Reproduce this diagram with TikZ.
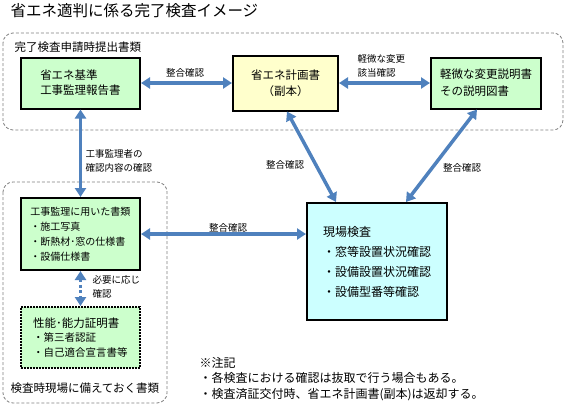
\documentclass[tikz,border=0pt]{standalone}
\usepackage{fontspec}
\setmainfont{Noto Sans CJK JP}
\usepackage{tikz}
\usetikzlibrary{arrows.meta,positioning,calc}
\tikzset{>={Triangle[length=9pt,width=11pt]}}
\tikzset{
  caja/.style={draw=black, line width=2pt, inner sep=0pt},
  grupo/.style={draw=gray, dash pattern=on 3pt off 2pt, line width=0.8pt, rounded corners=10pt},
  etiq/.style={font=\fontsize{9.5}{14}\selectfont, align=left},
  flechas/.style={draw=flecha, line width=3.5pt, <->}
}

\begin{document}
\begin{tikzpicture}[x=1pt, y=-1pt]
\definecolor{flecha}{HTML}{4F81BD}
\definecolor{verde}{HTML}{CCFFCC}
\definecolor{amarillo}{HTML}{FFFFCC}
\definecolor{celeste}{HTML}{CCFFFF}
\useasboundingbox (0,0) rectangle (566,410);

% Titulo
\node[anchor=west, font=\fontsize{15.5}{18}\selectfont] (titulo) at (7,11) {省エネ適判に係る完了検査イメージ};

% Grupos con borde discontinuo
\draw[grupo] (3,33) rectangle (563,130);
\draw[grupo] (3,182) rectangle (167,403);
\node[anchor=west, font=\fontsize{11.5}{14}\selectfont] (grupoA) at (11,47) {完了検査申請時提出書類};
\node[anchor=west, font=\fontsize{11.5}{14}\selectfont] (grupoB) at (7,388) {検査時現場に備えておく書類};

% Cajas
\node[caja, fill=verde, minimum width=119pt, minimum height=51pt, align=left,
  font=\fontsize{11.5}{15}\selectfont] (reporte) at (80.5,83) {省エネ基準\\工事監理報告書};
\node[caja, fill=amarillo, minimum width=105pt, minimum height=55pt, align=center,
  font=\fontsize{11.5}{16}\selectfont] (plan) at (285.5,83) {省エネ計画書\\（副本）};
\node[caja, fill=verde, minimum width=110pt, minimum height=51pt, align=left,
  font=\fontsize{11.5}{17}\selectfont] (cambio) at (486,83) {軽微な変更説明書\\その説明図書};
\node[caja, fill=verde, minimum width=119pt, minimum height=72pt, align=left,
  font=\fontsize{10}{15}\selectfont] (monitoreo) at (80.5,234) {工事監理に用いた書類\\・施工写真\\・断熱材･窓の仕様書\\・設備仕様書};
\node[caja, fill=verde, dash pattern=on 2pt off 1pt, minimum width=119pt, minimum height=61pt, align=left,
  font=\fontsize{10.5}{14.5}\selectfont] (certificado) at (80.5,337.5) {{\fontsize{11.5}{14.5}\selectfont 性能･能力証明書}\\・第三者認証\\・自己適合宣言書等};
\node[caja, fill=celeste, minimum width=140pt, minimum height=117pt, align=left,
  font=\fontsize{12}{20}\selectfont] (campo) at (377,261.5) {現場検査\\・窓等設置状況確認\\・設備設置状況確認\\・設備型番等確認};

% Flechas
\draw[flechas] (reporte.east) -- (plan.west);
\draw[flechas] (plan.east) -- (cambio.west);
\draw[flechas] (reporte.south) -- (monitoreo.north);
\draw[flechas, dash pattern=on 3pt off 2.5pt] (monitoreo.south) -- (certificado.north);
\draw[flechas] (monitoreo.east) -- (monitoreo.east -| campo.west);
\draw[flechas] ([xshift=1.5pt]plan.south) -- ([xshift=30pt]campo.north west);
\draw[flechas] ([xshift=-9pt]cambio.south) -- ([xshift=100pt]campo.north west);

% Etiquetas
\node[etiq] (lbl12) at (185,73) {整合確認};
\node[etiq, anchor=west] (lbl23) at (354,65.5) {軽微な変更\\該当確認};
\node[etiq, anchor=west] (lbl14) at (82,160.5) {工事監理者の\\確認内容の確認};
\node[etiq, anchor=west] (lbl45) at (89,287) {必要に応じ\\確認};
\node[etiq] (lbl46) at (228,228) {整合確認};
\node[etiq] (lbl26) at (285,165) {整合確認};
\node[etiq] (lbl36) at (462,168) {整合確認};

% Nota
\node[anchor=west, align=left, font=\fontsize{12}{15.5}\selectfont] (nota) at (196,379)
  {※注記\\・各検査における確認は抜取で行う場合もある。\\・検査済証交付時、省エネ計画書(副本)は返却する。};

\end{tikzpicture}
\end{document}
